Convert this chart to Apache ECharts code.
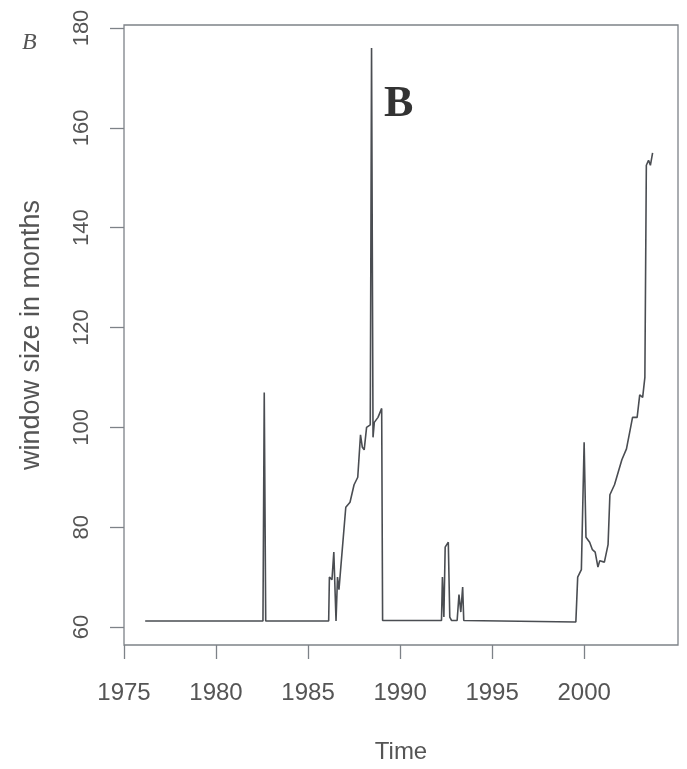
<!DOCTYPE html>
<html><head><meta charset="utf-8">
<script src="https://cdn.jsdelivr.net/npm/echarts@6/dist/echarts.min.js"></script>
<style>html,body{margin:0;padding:0;background:#fff}#c{width:687px;height:769px}</style>
</head><body><div id="c"></div>
<script>
const years = [1976.15,1982.55,1982.62,1982.70,1986.12,1986.16,1986.30,1986.40,1986.52,1986.60,1986.68,1986.78,1987.05,1987.28,1987.50,1987.70,1987.85,1987.95,1988.05,1988.18,1988.38,1988.45,1988.53,1988.60,1988.80,1989.00,1989.05,1992.25,1992.30,1992.38,1992.45,1992.62,1992.70,1992.80,1993.10,1993.20,1993.30,1993.40,1993.46,1999.55,1999.65,1999.85,2000.00,2000.10,2000.30,2000.45,2000.60,2000.75,2000.85,2001.10,2001.30,2001.40,2001.65,2001.85,2002.05,2002.30,2002.50,2002.63,2002.88,2003.02,2003.18,2003.30,2003.38,2003.50,2003.60,2003.72];
const windowSize = [61.2,61.2,107,61.2,61.2,70,69.5,75,61.2,70,67.5,72,84,85,88.5,90,98.5,96,95.5,100,100.5,176,98,101,102,103.8,61.3,61.3,70,62,76,77,62,61.3,61.3,66.5,63,68,61.3,61,70,71.5,97,78,77,75.5,75,72,73.3,73,76.5,86.5,88.5,91,93.5,95.7,99.5,102,102,106.5,106,110,152.5,153.5,152.5,155];
const xTicks = [1975,1980,1985,1990,1995,2000];
const yTicks = [60,80,100,120,140,160,180];

const axisCol = '#7d8288', textCol = '#555';
const chart = echarts.init(document.getElementById('c'));
chart.setOption({
  animation:false,
  backgroundColor:'#fff',
  grid:{left:124,right:9,top:25,bottom:124,outerBoundsMode:'none',containLabel:false,show:true,borderColor:axisCol,borderWidth:1.3,backgroundColor:'transparent'},
  xAxis:{type:'value',min:1975,max:2005.1,
    name:'Time',nameLocation:'middle',nameGap:95,
    nameTextStyle:{fontFamily:'Liberation Sans',fontSize:24,color:textCol},
    axisLine:{show:false},
    axisTick:{show:true,length:14,inside:false,customValues:xTicks,lineStyle:{color:axisCol,width:1.3}},
    axisLabel:{customValues:xTicks,margin:36,formatter:v=>String(v),fontFamily:'Liberation Sans',fontSize:24,color:textCol},
    splitLine:{show:false}},
  yAxis:{type:'value',min:56.4,max:180.6,
    name:'window size in months',nameLocation:'middle',nameGap:79,nameRotate:90,
    nameTextStyle:{fontFamily:'Liberation Sans',fontSize:27,color:textCol},
    axisLine:{show:false},
    axisTick:{show:true,length:14,customValues:yTicks,lineStyle:{color:axisCol,width:1.3}},
    axisLabel:{customValues:yTicks,rotate:90,margin:31,formatter:v=>String(v),fontFamily:'Liberation Sans',fontSize:22,color:textCol},
    splitLine:{show:false}},
  graphic:[
    {type:'text',left:22,top:31,style:{text:'B',font:'italic 24px "Liberation Serif"',fill:'#555'}},
    {type:'text',left:384,top:83,style:{text:'B',font:'bold 44px "Liberation Serif"',fill:'#333'}}
  ],
  series:[{type:'line',data:years.map((y,i)=>[y,windowSize[i]]),showSymbol:false,
    lineStyle:{color:'#4a4d52',width:1.6},z:3}]
});
</script></body></html>
